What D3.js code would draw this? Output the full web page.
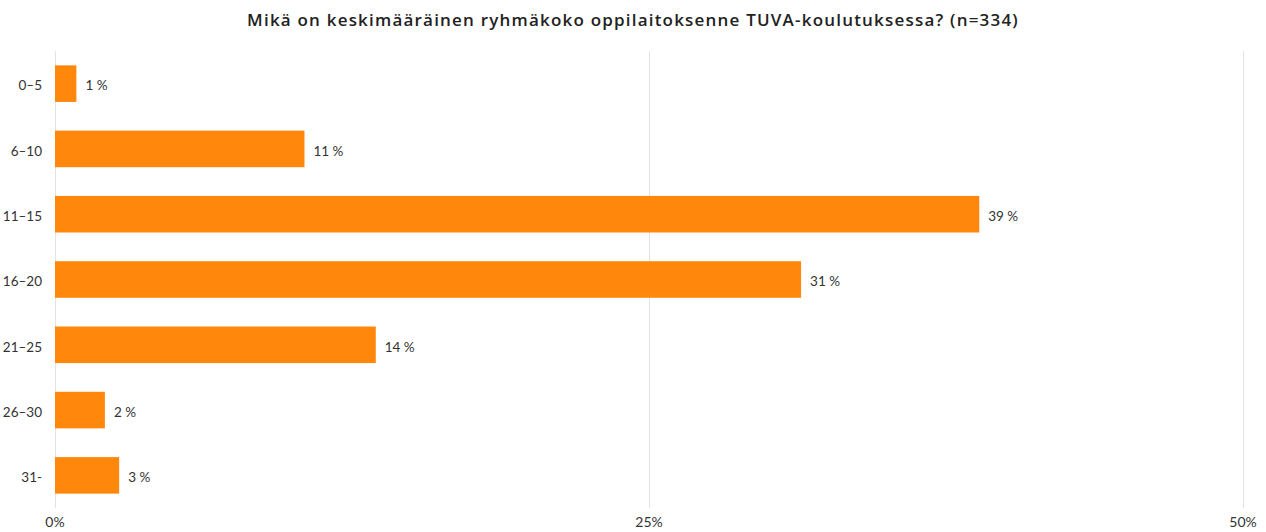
<!DOCTYPE html>
<html><head><meta charset="utf-8">
<script src="https://cdn.jsdelivr.net/npm/d3@7"></script>
<style>body{margin:0;background:#fff;} svg{display:block;font-family:Lato,"Open Sans",sans-serif;}</style>
</head><body>
<svg id="c" width="1266" height="532"></svg>
<script>
const categories = ["0–5","6–10","11–15","16–20","21–25","26–30","31-"];
const values = [0.9, 10.5, 38.9, 31.4, 13.5, 2.1, 2.7];
const valueLabels = ["1 %","11 %","39 %","31 %","14 %","2 %","3 %"];
const tickValues = [0, 25, 50];
const tickLabels = ["0%","25%","50%"];
const title = "Mikä on keskimääräinen ryhmäkoko oppilaitoksenne TUVA-koulutuksessa? (n=334)";

const svg = d3.select("#c");
const m = {left:55, right:1243, top:51, bottom:508};
const x = d3.scaleLinear().domain([0,50]).range([m.left, m.right]);
const y = d3.scaleBand().domain(categories).range([m.top, m.bottom]).paddingInner(0.44).paddingOuter(0.22);

svg.append("text").attr("x",633).attr("y",26).attr("text-anchor","middle")
  .attr("font-family","'Open Sans',sans-serif").attr("letter-spacing","1.2px")
  .attr("font-size",17).attr("font-weight",600).attr("fill","#222").text(title);

svg.append("g").selectAll("line").data(tickValues).join("line")
  .attr("x1",d=>x(d)+0.5).attr("x2",d=>x(d)+0.5).attr("y1",m.top).attr("y2",m.bottom)
  .attr("stroke","#e3e3e3").attr("stroke-width",1);

svg.append("g").selectAll("text").data(tickValues).join("text")
  .attr("x",d=>x(d)).attr("y",527).attr("text-anchor","middle")
  .attr("font-size",14).attr("fill","#333").text((d,i)=>tickLabels[i]);

svg.append("g").selectAll("rect").data(values).join("rect")
  .attr("x",x(0)).attr("y",(d,i)=>y(categories[i]))
  .attr("width",d=>x(d)-x(0)).attr("height",y.bandwidth())
  .attr("fill","#FF870C");

svg.append("g").selectAll("text").data(values).join("text")
  .attr("x",d=>x(d)+9).attr("y",(d,i)=>y(categories[i])+y.bandwidth()/2)
  .attr("dy","0.5em").attr("font-size",13.5).attr("fill","#333").text((d,i)=>valueLabels[i]);

svg.append("g").selectAll("text").data(categories).join("text")
  .attr("x",42).attr("y",d=>y(d)+y.bandwidth()/2).attr("dy","0.5em")
  .attr("text-anchor","end").attr("font-size",13.5).attr("fill","#333").text(d=>d);
</script>
</body></html>
